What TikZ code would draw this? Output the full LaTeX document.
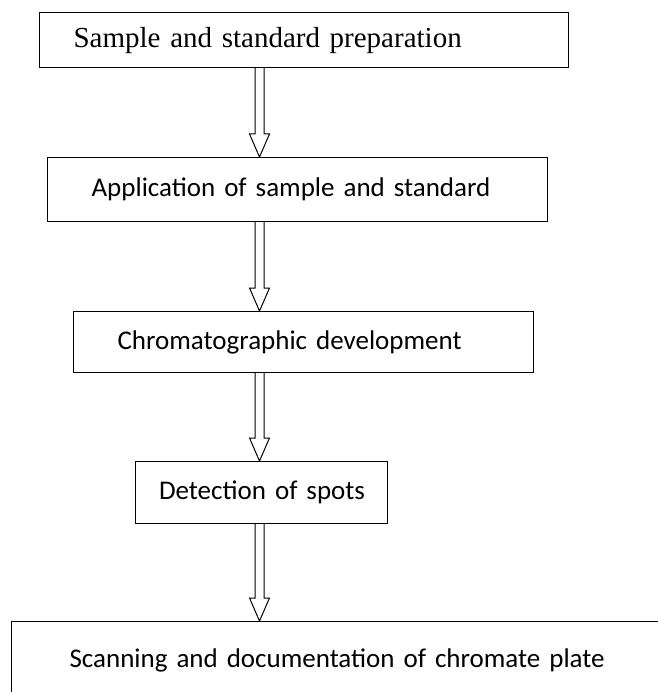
\documentclass[tikz,border=0pt]{standalone}
\usepackage{fontspec}
\setmainfont{Carlito}
\newfontfamily\timesfont{Liberation Serif}
\usetikzlibrary{positioning, calc}

\begin{document}
\begin{tikzpicture}[
  x=1pt, y=-1pt,
  box/.style={rectangle, draw, line width=1.2pt, anchor=north west, align=left,
              inner ysep=0pt, font=\fontsize{27}{32}\selectfont},
  flow/.style={line width=1pt, to path={let \p1=(\tikztostart), \p2=(\tikztotarget) in
      (\x1-4.5pt,\y1) -- (\x1-4.5pt,\y2+23pt) -- (\x1-10pt,\y2+23pt) -- (\x2,\y2)
      -- (\x1+10pt,\y2+23pt) -- (\x1+4.5pt,\y2+23pt) -- (\x1+4.5pt,\y1)}}
]
  \useasboundingbox (0,0) rectangle (657,692);
  % Schritte
  \node[box, inner xsep=34pt, text width=461pt, minimum height=55pt,
        font=\timesfont\fontsize{29}{34}\selectfont] (prep) at (39,12)
        {Sample and standard preparation};
  \node[box, inner xsep=44pt, text width=412pt, minimum height=64pt] (apply) at (47,157)
        {Application of sample and standard};
  \node[box, inner xsep=44pt, text width=372pt, minimum height=61pt] (develop) at (73,311)
        {Chromatographic development};
  \node[box, inner xsep=22pt, text width=208pt, minimum height=62pt, align=right] (detect) at (134.5,461)
        {Detection of spots};
  \node[box, inner xsep=58pt, text width=640pt, minimum height=78pt] (scan) at (11,621)
        {Scanning and documentation of chromate plate};
  % Pfeile
  \coordinate (spine) at (259.5,0);
  \draw[flow] (prep.south -| spine) to (apply.north -| spine);
  \draw[flow] (apply.south -| spine) to (develop.north -| spine);
  \draw[flow] (develop.south -| spine) to (detect.north -| spine);
  \draw[flow] (detect.south -| spine) to (scan.north -| spine);
\end{tikzpicture}
\end{document}
